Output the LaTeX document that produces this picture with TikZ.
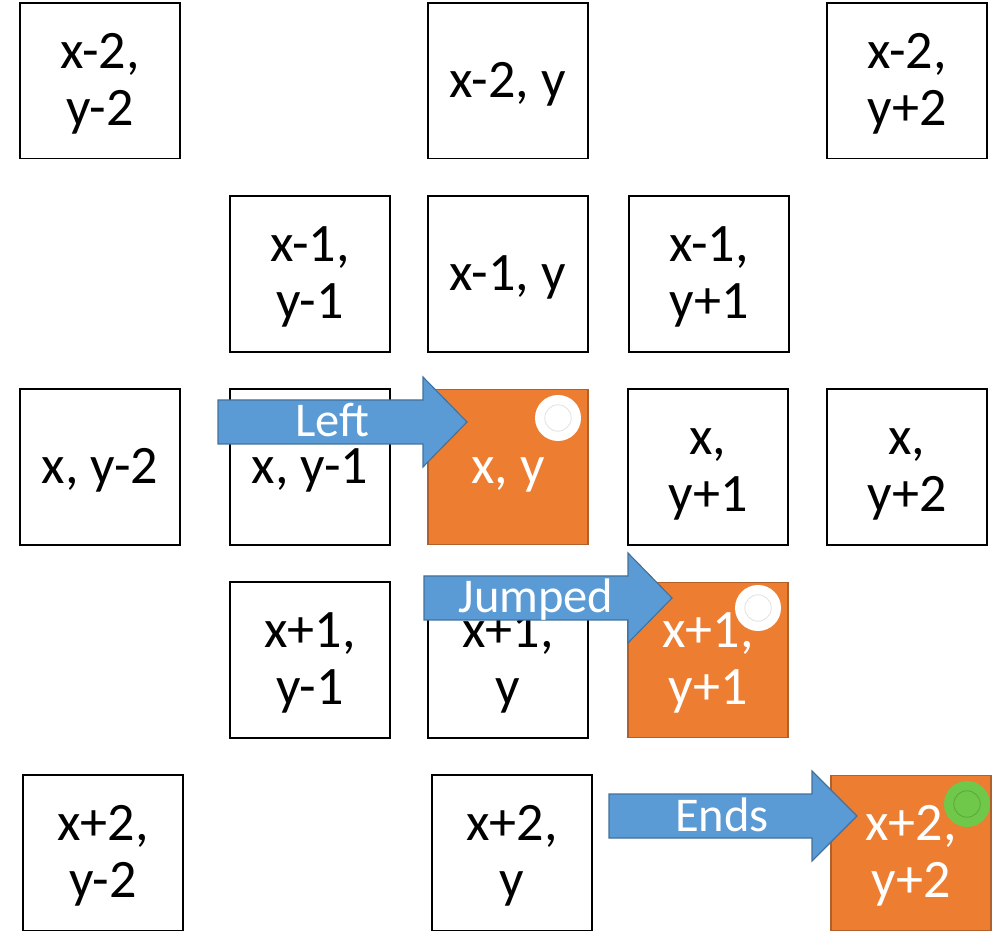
\documentclass[tikz,border=0pt]{standalone}
\usepackage{fontspec}
\setmainfont{Carlito}
\definecolor{org}{HTML}{ED7D31}
\definecolor{orgd}{HTML}{B0602A}
\definecolor{blu}{HTML}{5B9BD5}
\definecolor{blud}{HTML}{41719C}
\definecolor{grn}{HTML}{70C84A}
\definecolor{grnd}{HTML}{5AA83A}
\definecolor{ringg}{HTML}{E3E3E3}
% fixed line box, like the slide's text frames
\newcommand\cs{\rule[-9pt]{0pt}{41pt}}

\begin{document}
\begin{tikzpicture}[x=0.025cm,y=-0.025cm,
    cell/.style={draw=black,line width=1.4pt,fill=white,minimum width=4cm,
      minimum height=3.875cm,inner sep=0pt,align=center,font=\fontsize{38.5}{41}\selectfont},
    hot/.style={cell,fill=org,draw=orgd,line width=1pt,text=white},
    arr/.style={fill=blu,draw=blud,line width=0.8pt},
    lbl/.style={anchor=base,text=white,font=\fontsize{34.5}{40}\selectfont},
    dot/.style={circle,fill=white,minimum size=1.15cm,inner sep=0pt},
    ring/.style={draw=ringg,line width=0.6pt}]
  \useasboundingbox (0,0) rectangle (1002,931);
  % plain cells
  \foreach \n/\x/\y/\t in {a1/100/81/{\cs x-2,\\ \cs y-2},a3/508/81/{\cs x-2, y},a5/907/81/{\cs x-2,\\ \cs y+2},
      b2/310/274/{\cs x-1,\\ \cs y-1},b3/508/274/{\cs x-1, y},b4/709/274/{\cs x-1,\\ \cs y+1},
      c1/100/467/{\cs x, y-2},c2/310/467/{\cs x, y-1},c4/708/467/{\cs x,\\ \cs y+1},c5/907/467/{\cs x,\\ \cs y+2},
      d2/310/660/{\cs x+1,\\ \cs y-1},d3/508/660/{\cs x+1,\\ \cs y},
      e1/103/853/{\cs x+2,\\ \cs y-2},e3/512/853/{\cs x+2,\\ \cs y}}{
    \node[cell] (\n) at (\x,\y) {\t};}
  % cells on the path
  \node[hot] (c3) at (508,467) {\cs x, y};
  \node[hot] (d4) at (708,660) {\cs x+1,\\ \cs y+1};
  \node[hot] (e5) at (911,853) {\cs x+2,\\ \cs y+2};
  % block arrows
  \foreach \n/\xa/\xb/\xt/\yc/\xl/\t in {la/218/423/467/422/332/Left,
      ja/424/628/672/598/536/Jumped,ea/609/812/857/816/722/Ends}{
    \filldraw[arr] (\xa,\yc-22) -- (\xb,\yc-22) -- (\xb,\yc-45) -- (\xt,\yc)
      -- (\xb,\yc+45) -- (\xb,\yc+22) -- (\xa,\yc+22) -- cycle;
    \node[lbl] (\n) at (\xl,\yc+15) {\t};}
  % markers
  \node[dot] (p1) at (558,418) {}; \draw[ring] (p1.center) circle[radius=0.33cm];
  \node[dot] (p2) at (758,608) {}; \draw[ring] (p2.center) circle[radius=0.33cm];
  \node[dot,fill=grn] (p3) at (967,804) {}; \draw[ring,draw=grnd] (p3.center) circle[radius=0.33cm];
\end{tikzpicture}
\end{document}
